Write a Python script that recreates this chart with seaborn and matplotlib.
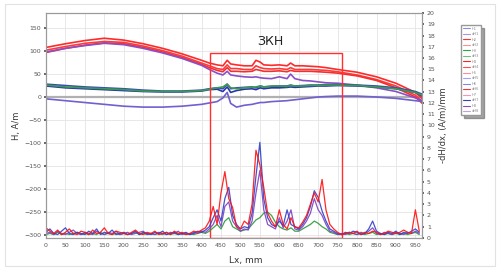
import numpy as np
import pandas as pd
import matplotlib
matplotlib.use("Agg")
import matplotlib.pyplot as plt
import seaborn as sns
from matplotlib.lines import Line2D
from matplotlib.patches import Rectangle

sns.set_theme(style="white")
plt.rcParams['font.family'] = ['DejaVu Sans']

# ---------------- data ----------------
x_h = [0, 50, 100, 150, 200, 250, 300, 350, 400, 420, 440, 455, 466, 475, 490, 510, 530, 540,
       551, 560, 580, 600, 620, 629, 640, 660, 680, 700, 720, 750, 800, 850, 900, 950, 968]

h_red1 = [108, 116, 123, 128, 124, 116, 106, 94, 80, 74, 70, 68, 80, 72, 70, 68, 68, 80,
          76, 70, 69, 70, 68, 74, 68, 68, 67, 66, 64, 60, 54, 44, 30, 10, -4]
h_red2 = [102, 110, 117, 121, 119, 111, 101, 89, 74, 68, 62, 60, 70, 62, 62, 60, 60, 68,
          64, 62, 61, 62, 60, 64, 60, 60, 60, 59, 58, 55, 48, 38, 24, 4, -10]
h_red3 = [97, 106, 113, 118, 116, 108, 98, 86, 71, 64, 58, 55, 64, 56, 56, 55, 56, 60,
          58, 56, 56, 57, 55, 58, 56, 56, 56, 55, 54, 52, 46, 36, 20, 0, -14]
h_purple1 = [98, 106, 112, 117, 114, 106, 96, 84, 69, 60, 52, 48, 56, 48, 46, 44, 43, 44,
             42, 41, 40, 44, 40, 50, 40, 36, 35, 33, 31, 30, 26, 20, 12, -2, -8]
h_blue1 = [28, 25, 22, 20, 18, 15, 13, 13, 15, 18, 20, 18, 28, 18, 20, 21, 22, 20,
           24, 22, 23, 24, 24, 26, 24, 25, 26, 26, 27, 27, 26, 24, 20, 12, 6]
h_blue2 = [24, 20, 18, 16, 14, 12, 11, 11, 13, 16, 17, 12, 22, 10, 14, 17, 18, 16,
           20, 18, 20, 20, 21, 22, 21, 22, 23, 24, 24, 25, 24, 22, 18, 10, 2]
h_green = [26, 22, 20, 18, 16, 13, 12, 12, 14, 17, 20, 22, 28, 20, 18, 20, 21, 22,
           24, 22, 24, 24, 23, 25, 24, 24, 25, 25, 26, 26, 25, 22, 18, 10, 4]
h_purple2 = [-4, -8, -12, -16, -20, -22, -22, -20, -16, -13, -10, -2, 10, -14, -22, -18, -16, -14,
             -12, -12, -10, -9, -8, -7, -6, -4, -2, 0, 1, 2, 2, 0, -3, -8, -10]

x_d = list(range(0, 970, 10))
d_red = [0.9, 0.6, 0.4, 0.7, 0.3, 0.5, 0.8, 0.4, 0.3, 0.6, 0.5, 0.3, 0.7, 0.4, 0.5, 0.9, 0.4, 0.3, 0.6, 0.5, 0.4,
         0.3, 0.5, 0.7, 0.4, 0.3, 0.5, 0.4, 0.6, 0.3, 0.4, 0.5, 0.3, 0.6, 0.4, 0.5, 0.3, 0.4, 0.6, 0.5, 0.7, 0.9,
         1.5, 2.8, 1.2, 4.0, 5.9, 3.5, 2.7, 1.0, 0.8, 1.5, 1.2, 3.0, 7.8, 6.5, 4.5, 2.2, 1.5, 1.0, 2.5, 1.2,
         0.8, 1.8, 1.0, 0.9, 1.4, 2.0, 3.0, 4.0, 3.2, 5.2, 2.5, 1.2, 0.8, 0.5,
         0.3, 0.4, 0.5, 0.4, 0.6, 0.3, 0.5, 0.4, 0.6, 0.5, 0.3, 0.4, 0.6, 0.5, 0.4, 0.5, 0.7, 0.5, 0.4, 2.5, 0.6]
d_blue = [0.5, 0.8, 0.4, 0.3, 0.6, 0.9, 0.4, 0.3, 0.5, 0.4, 0.3, 0.6, 0.4, 0.8, 0.3, 0.5, 0.4, 0.7, 0.3, 0.4, 0.5,
          0.3, 0.4, 0.6, 0.3, 0.5, 0.4, 0.3, 0.5, 0.4, 0.6, 0.3, 0.4, 0.5, 0.3, 0.4, 0.5, 0.3, 0.4, 0.6, 0.5, 0.7,
          1.0, 1.8, 2.5, 1.5, 3.5, 4.5, 2.0, 1.2, 0.8, 1.0, 0.9, 2.2, 5.5, 8.5, 3.5, 1.8, 1.2, 1.0, 1.5, 1.1,
          2.5, 1.2, 1.0, 0.8, 1.2, 1.8, 2.8, 4.2, 3.6, 2.4, 1.5, 0.8, 0.6, 0.4,
          0.3, 0.5, 0.4, 0.6, 0.5, 0.3, 0.4, 0.8, 1.5, 0.6, 0.4, 0.3, 0.5, 0.4, 0.6, 0.3, 0.5, 0.4, 0.6, 0.8, 0.5]
d_purple = [0.4, 0.5, 0.3, 0.6, 0.4, 0.3, 0.5, 0.7, 0.4, 0.3, 0.5, 0.4, 0.3, 0.6, 0.4, 0.3, 0.5, 0.4, 0.6, 0.3, 0.4,
            0.5, 0.3, 0.4, 0.5, 0.6, 0.3, 0.4, 0.3, 0.5, 0.4, 0.3, 0.5, 0.4, 0.6, 0.3, 0.4, 0.3, 0.5, 0.4, 0.6, 0.5,
            0.8, 1.2, 2.0, 1.0, 2.8, 3.2, 1.5, 1.0, 0.6, 0.8, 0.7, 1.5, 4.0, 6.0, 2.5, 1.2, 1.0, 0.8, 1.8, 0.9,
            1.5, 2.5, 0.8, 0.7, 1.0, 1.5, 2.2, 3.5, 2.5, 2.0, 1.2, 0.6, 0.5, 0.3,
            0.4, 0.3, 0.5, 0.4, 0.3, 0.5, 0.4, 0.6, 0.9, 0.4, 0.3, 0.5, 0.4, 0.3, 0.5, 0.4, 0.3, 0.5, 0.4, 0.6, 0.4]
d_green = [0.3, 0.4, 0.3, 0.5, 0.3, 0.4, 0.3, 0.4, 0.5, 0.3, 0.4, 0.3, 0.4, 0.3, 0.5, 0.3, 0.4, 0.3, 0.4, 0.3, 0.4,
           0.3, 0.4, 0.5, 0.3, 0.4, 0.3, 0.4, 0.3, 0.4, 0.3, 0.5, 0.3, 0.4, 0.3, 0.4, 0.3, 0.4, 0.3, 0.4, 0.5, 0.4,
           0.6, 0.9, 1.2, 0.8, 1.5, 1.8, 1.0, 0.8, 0.6, 0.7, 0.8, 1.2, 1.6, 1.8, 2.2, 2.3, 2.0, 1.4, 1.0, 0.8,
           0.7, 0.9, 0.6, 0.6, 0.8, 1.0, 1.2, 1.5, 1.3, 1.0, 0.8, 0.5, 0.4, 0.3,
           0.3, 0.4, 0.3, 0.4, 0.3, 0.4, 0.3, 0.4, 0.5, 0.3, 0.4, 0.3, 0.4, 0.3, 0.4, 0.3, 0.4, 0.3, 0.4, 0.5, 0.3]

zone_start, zone_end, zone_top = 423, 760, 95
zone_label = "ЗКН"

legend_labels = ["H1", "dH1", "H2", "dH2", "H3", "dH3", "H4", "dH4",
                 "H5", "dH5", "H6", "dH6", "H7", "dH7", "H8", "dH8"]
legend_colors = ["#8c8ce0", "#b090e0", "#ff3030", "#ff9090", "#30a040", "#70c070", "#ff2020", "#ff5050",
                 "#ff9090", "#a0a0ff", "#8080ff", "#ff3030", "#ff90b0", "#3040c0", "#8050c0", "#c0a0e0"]

# ---------------- frames ----------------
h_series = {"red1": h_red1, "red2": h_red2, "red3": h_red3, "purple1": h_purple1,
            "blue1": h_blue1, "blue2": h_blue2, "green": h_green, "purple2": h_purple2}
h_colors = {"red1": "#ff2a2a", "red2": "#ff3a3a", "red3": "#f23030", "purple1": "#8a4fc8",
            "blue1": "#3a4ab8", "blue2": "#2a36a8", "green": "#3a9a50", "purple2": "#7060d0"}
df_h = pd.concat([pd.DataFrame({"x": x_h, "y": v, "s": k}) for k, v in h_series.items()])

d_series = {"green": d_green, "purple": d_purple, "blue": d_blue, "red": d_red}
d_colors = {"green": "#2a9a3a", "purple": "#8040c0", "blue": "#3040c8", "red": "#ff1010"}
df_d = pd.concat([pd.DataFrame({"x": x_d, "y": v, "s": k}) for k, v in d_series.items()])

# ---------------- figure ----------------
fig = plt.figure(figsize=(5.0, 2.71), dpi=100)
fig.patches.append(Rectangle((0.01, 0.02), 0.98, 0.965, transform=fig.transFigure,
                             fill=False, edgecolor="#e2e2e2", lw=0.8))
ax = fig.add_axes([0.092, 0.122, 0.752, 0.830])
ax2 = ax.twinx()

ax.set_xlim(0, 967)
ax.set_ylim(-307, 183)
ax2.set_ylim(0, 20)

ax.set_xticks(range(0, 951, 50))
ax.set_yticks(range(-300, 151, 50))
ax2.set_yticks(range(0, 21, 1))
ax.grid(True, color="#e4e4e4", lw=0.6)
ax.set_axisbelow(True)

ax.axhline(0, color="#b0b0b0", lw=1.6, zorder=1)

sns.lineplot(data=df_h, x="x", y="y", hue="s", palette=h_colors, ax=ax, legend=False,
             lw=1.2, estimator=None, sort=False)
sns.lineplot(data=df_d, x="x", y="y", hue="s", palette=d_colors, ax=ax2, legend=False,
             lw=0.9, estimator=None, sort=False, alpha=0.9)

ax.add_patch(Rectangle((zone_start, -307), zone_end - zone_start, zone_top + 307,
                       fill=False, edgecolor="#ff3030", lw=1.0, zorder=5))
ax.text((zone_start + zone_end) / 2 - 15, 120, zone_label, ha="center", va="center",
        fontsize=9, color="#222222")

for a in (ax, ax2):
    for sp in a.spines.values():
        sp.set_color("#9a9a9a")
        sp.set_linewidth(0.8)
ax.tick_params(axis="both", labelsize=4.5, length=1.5, pad=2, colors="#555555")
ax2.tick_params(axis="y", labelsize=4.5, length=1.5, pad=2, colors="#555555")

ax.set_xlabel("Lx, mm", fontsize=6.5, labelpad=2, color="#333333")
ax.xaxis.set_label_coords(0.53, -0.08)
ax.set_ylabel("H, A/m", fontsize=6, labelpad=2, color="#333333")
ax2.set_ylabel("-dH/dx, (A/m)/mm", fontsize=6, labelpad=3, color="#333333")

handles = [Line2D([0], [0], color=c, lw=0.8) for c in legend_colors]
fig.legend(handles, legend_labels, loc="upper left", bbox_to_anchor=(0.918, 0.915),
           fontsize=2.6, frameon=True, edgecolor="#999999", fancybox=False, shadow=True,
           handlelength=2.0, labelspacing=0.42, borderpad=0.5, handletextpad=0.5,
           labelcolor="#888888")

fig.savefig("out.png", dpi=100)
